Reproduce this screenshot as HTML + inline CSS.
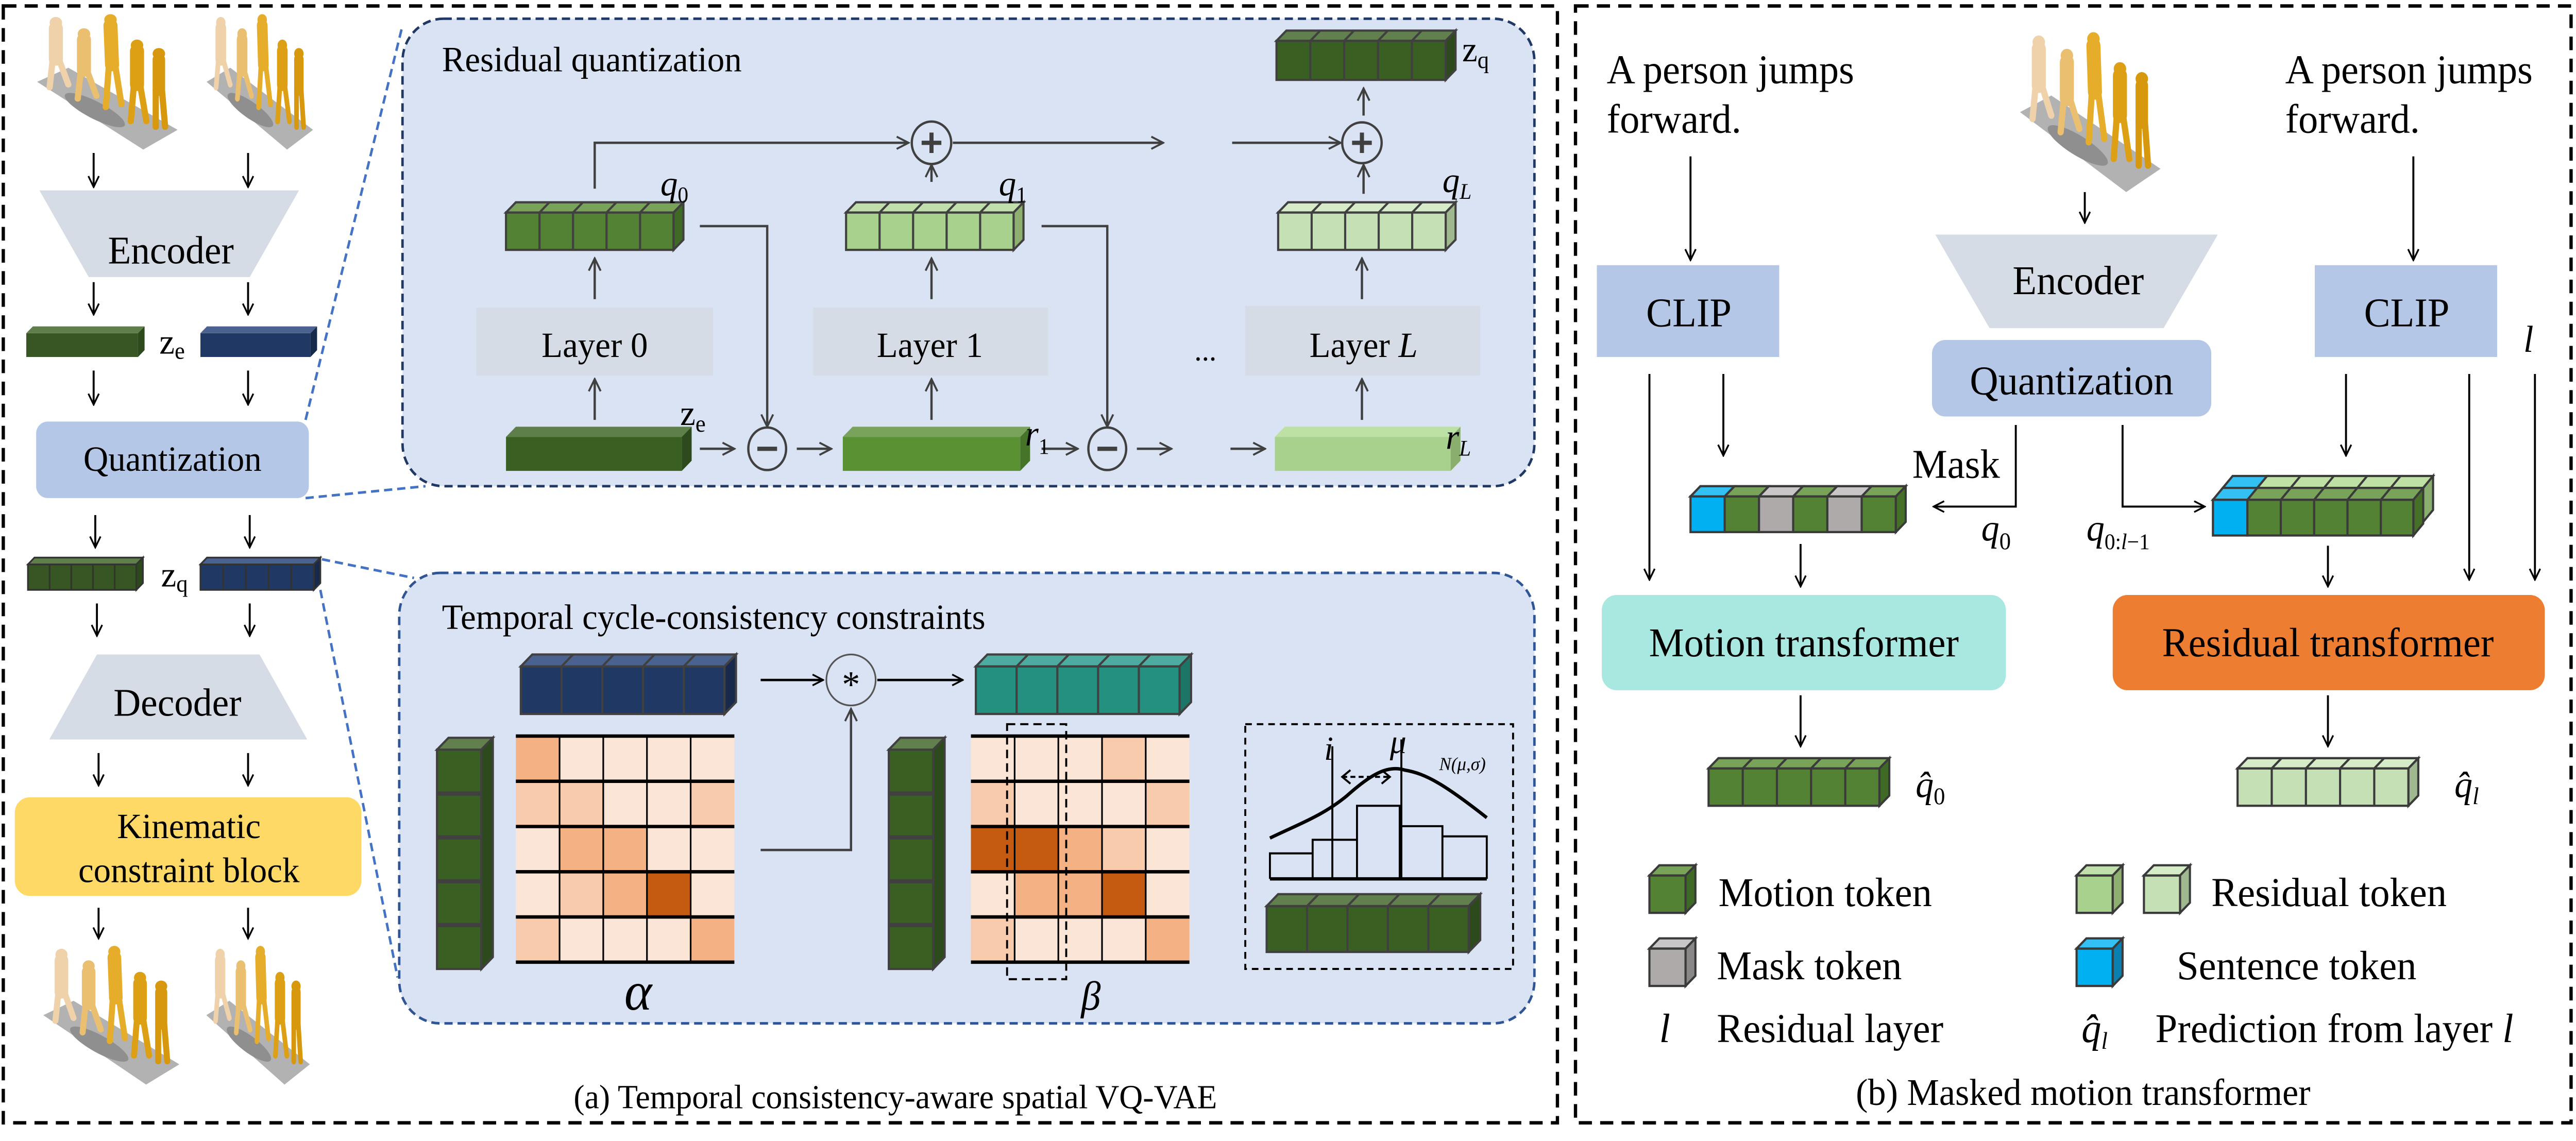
<!DOCTYPE html>
<html><head><meta charset="utf-8">
<style>
html,body{margin:0;padding:0;background:#fff;width:100%;height:100%;overflow:hidden;}
svg{display:block;position:fixed;left:0;top:0;width:100vw;height:100vh;}
text{font-family:"Liberation Serif","Times New Roman",serif;}
</style></head>
<body>
<svg viewBox="0 0 1568 671.2" preserveAspectRatio="none" xmlns="http://www.w3.org/2000/svg" font-family="Liberation Serif, serif">
<defs>
<marker id="ah" viewBox="0 0 10 10" refX="9" refY="5" markerWidth="8" markerHeight="8" markerUnits="userSpaceOnUse" orient="auto"><path d="M1,1 L9,5 L1,9" fill="none" stroke="#000" stroke-width="1.3"/></marker>
<marker id="ag" viewBox="0 0 10 10" refX="9" refY="5" markerWidth="9" markerHeight="9" markerUnits="userSpaceOnUse" orient="auto"><path d="M1,1 L9,5 L1,9" fill="none" stroke="#404040" stroke-width="1.3"/></marker>
<g id="figdef">
<polygon points="8,52 28,42 98,86 76,100" fill="#b2b2b2"/>
<ellipse cx="45" cy="72" rx="22" ry="6" fill="#8f8f8f" transform="rotate(30 45 72)"/>
<g stroke-linecap="round">
<circle cx="20" cy="10" r="4" fill="#f0d2aa"/><line x1="20" y1="14" x2="20" y2="36" stroke="#f0d2aa" stroke-width="9"/><line x1="18" y1="36" x2="16" y2="56" stroke="#f0d2aa" stroke-width="4"/><line x1="22" y1="36" x2="28" y2="54" stroke="#f0d2aa" stroke-width="4"/>
<circle cx="38" cy="18" r="4" fill="#eabf70"/><line x1="38" y1="22" x2="38" y2="44" stroke="#eabf70" stroke-width="9"/><line x1="36" y1="44" x2="34" y2="64" stroke="#eabf70" stroke-width="4"/><line x1="40" y1="44" x2="46" y2="62" stroke="#eabf70" stroke-width="4"/>
<circle cx="55" cy="8" r="4" fill="#e6ad2a"/><line x1="55" y1="12" x2="56" y2="40" stroke="#e6ad2a" stroke-width="9"/><line x1="54" y1="40" x2="52" y2="70" stroke="#e6ad2a" stroke-width="4"/><line x1="58" y1="40" x2="62" y2="68" stroke="#e6ad2a" stroke-width="4"/>
<circle cx="72" cy="26" r="4" fill="#dd9f14"/><line x1="72" y1="30" x2="72" y2="54" stroke="#dd9f14" stroke-width="9"/><line x1="70" y1="54" x2="68" y2="80" stroke="#dd9f14" stroke-width="4"/><line x1="74" y1="54" x2="78" y2="80" stroke="#dd9f14" stroke-width="4"/>
<circle cx="86" cy="32" r="4" fill="#d8980e"/><line x1="86" y1="36" x2="86" y2="58" stroke="#d8980e" stroke-width="8"/><line x1="84" y1="58" x2="84" y2="84" stroke="#d8980e" stroke-width="4"/><line x1="88" y1="58" x2="90" y2="84" stroke="#d8980e" stroke-width="4"/>
</g>
</g>
</defs>
<rect x="2" y="3.5" width="946" height="657" fill="none" stroke="#000" stroke-width="2" stroke-dasharray="8,5"/>
<rect x="959" y="3.5" width="606" height="657" fill="none" stroke="#000" stroke-width="2" stroke-dasharray="8,5"/>

<g stroke="#4472c4" stroke-width="1.5" stroke-dasharray="5,3" fill="none">
<line x1="186" y1="247" x2="245" y2="15"/>
<line x1="186" y1="293" x2="259" y2="286"/>
<line x1="196" y1="329" x2="252" y2="340"/>
<line x1="195" y1="347" x2="242" y2="575"/>
</g>

<rect x="245" y="11" width="689" height="275" rx="25" fill="#dae3f3" stroke="#203864" stroke-width="1.5" stroke-dasharray="5,3"/>
<rect x="243" y="337" width="691" height="265" rx="25" fill="#dae3f3" stroke="#2f5597" stroke-width="1.5" stroke-dasharray="5,3"/>

<use href="#figdef" transform="translate(15,5) scale(0.95,0.83)"/>
<use href="#figdef" transform="translate(120,5) scale(0.72,0.83)"/>
<g stroke="#000" stroke-width="1.2" marker-end="url(#ah)">
<line x1="57" y1="90" x2="57" y2="110"/><line x1="151" y1="90" x2="151" y2="110"/>
<line x1="57" y1="166" x2="57" y2="185"/><line x1="151" y1="166" x2="151" y2="185"/>
<line x1="57" y1="218" x2="57" y2="238"/><line x1="151" y1="218" x2="151" y2="238"/>
<line x1="58" y1="303" x2="58" y2="322"/><line x1="152" y1="303" x2="152" y2="322"/>
<line x1="59" y1="355" x2="59" y2="374"/><line x1="152" y1="355" x2="152" y2="374"/>
<line x1="60" y1="443" x2="60" y2="462"/><line x1="151" y1="443" x2="151" y2="462"/>
<line x1="60" y1="534" x2="60" y2="552"/><line x1="151" y1="534" x2="151" y2="552"/>
</g>
<polygon points="24,112 182,112 152,163 54,163" fill="#d6dce5"/>
<text x="104" y="155" font-size="23" text-anchor="middle">Encoder</text>
<rect x="16" y="196" width="68" height="14" fill="#375623"/><polygon points="16,196 20,192 88,192 84,196" fill="#5f7f4a"/><polygon points="84,196 88,192 88,206 84,210" fill="#2d4a1c"/>
<rect x="122" y="196" width="67" height="14" fill="#1f3864"/><polygon points="122,196 126,192 193,192 189,196" fill="#4a6290"/><polygon points="189,196 193,192 193,206 189,210" fill="#172a4c"/>
<text x="97" y="208" font-size="21">z<tspan font-size="14" dy="3">e</tspan></text>
<rect x="22" y="248" width="166" height="45" rx="7" fill="#b4c7e7"/>
<text x="105" y="277" font-size="21" text-anchor="middle">Quantization</text>
<g stroke="#333" stroke-width="1">
<rect x="17" y="332" width="66" height="15" fill="#375623"/><polygon points="17,332 21,328 87,328 83,332" fill="#5f7f4a"/><polygon points="83,332 87,328 87,343 83,347" fill="#2d4a1c"/>
<path d="M30.2,332V347M43.4,332V347M56.6,332V347M69.8,332V347"/>
<rect x="122" y="332" width="69" height="15" fill="#1f3864"/><polygon points="122,332 126,328 195,328 191,332" fill="#4a6290"/><polygon points="191,332 195,328 195,343 191,347" fill="#172a4c"/>
<path d="M135.8,332V347M149.6,332V347M163.4,332V347M177.2,332V347"/>
</g>
<text x="98" y="345" font-size="21">z<tspan font-size="14" dy="3">q</tspan></text>
<polygon points="59,385 158,385 187,435 30,435" fill="#d6dce5"/>
<text x="108" y="421" font-size="23" text-anchor="middle">Decoder</text>
<rect x="9" y="469" width="211" height="58" rx="9" fill="#ffd966"/>
<text x="115" y="493" font-size="21" text-anchor="middle">Kinematic</text>
<text x="115" y="519" font-size="21" text-anchor="middle">constraint block</text>
<use href="#figdef" transform="translate(19,553) scale(0.92,0.85)"/>
<use href="#figdef" transform="translate(120,553) scale(0.70,0.85)"/>

<text x="269" y="42" font-size="21">Residual quantization</text>
<rect x="290" y="181" width="144" height="40" fill="#d6dce5"/>
<text x="362" y="210" font-size="21" text-anchor="middle">Layer 0</text>
<rect x="495" y="181" width="143" height="40" fill="#d6dce5"/>
<text x="566" y="210" font-size="21" text-anchor="middle">Layer 1</text>
<rect x="758" y="180" width="143" height="41" fill="#d6dce5"/>
<text x="830" y="210" font-size="21" text-anchor="middle">Layer <tspan font-style="italic">L</tspan></text>
<text x="727" y="212" font-size="18">...</text>

<g stroke="#404040" stroke-width="1.4" fill="none">
<polyline points="362,111 362,84 553,84" marker-end="url(#ag)"/>
<line x1="580" y1="84" x2="708" y2="84" marker-end="url(#ag)"/>
<line x1="750" y1="84" x2="816" y2="84" marker-end="url(#ag)"/>
<line x1="362" y1="176" x2="362" y2="152" marker-end="url(#ag)"/>
<line x1="362" y1="247" x2="362" y2="223" marker-end="url(#ag)"/>
<line x1="567" y1="176" x2="567" y2="152" marker-end="url(#ag)"/>
<line x1="567" y1="247" x2="567" y2="223" marker-end="url(#ag)"/>
<line x1="567" y1="107" x2="567" y2="97" marker-end="url(#ag)"/>
<line x1="829" y1="176" x2="829" y2="152" marker-end="url(#ag)"/>
<line x1="829" y1="247" x2="829" y2="223" marker-end="url(#ag)"/>
<line x1="830" y1="114" x2="830" y2="97" marker-end="url(#ag)"/>
<line x1="830" y1="68" x2="830" y2="52" marker-end="url(#ag)"/>
<polyline points="426,133 467,133 467,251" marker-end="url(#ag)"/>
<polyline points="634,133 674,133 674,251" marker-end="url(#ag)"/>
<line x1="426" y1="264" x2="447" y2="264" marker-end="url(#ag)"/>
<line x1="485" y1="264" x2="506" y2="264" marker-end="url(#ag)"/>
<line x1="634" y1="264" x2="656" y2="264" marker-end="url(#ag)"/>
<line x1="692" y1="264" x2="713" y2="264" marker-end="url(#ag)"/>
<line x1="749" y1="264" x2="770" y2="264" marker-end="url(#ag)"/>
<ellipse cx="567" cy="84" rx="12" ry="12.5" fill="#dae3f3"/>
<ellipse cx="829" cy="84" rx="12" ry="12" fill="#dae3f3"/>
<ellipse cx="467" cy="264" rx="11.5" ry="12.5" fill="#dae3f3"/>
<ellipse cx="674" cy="264" rx="11.5" ry="12.5" fill="#dae3f3"/>
</g>
<g stroke="#404040" stroke-width="2.5">
<path d="M561,84H573M567,78V90M823,84H835M829,78V90M461,264H473M668,264H680"/>
</g>

<g stroke="#404040" stroke-width="1.3">
<rect x="308" y="125" width="102" height="22" fill="#548235"/><polygon points="308,125 314,119 416,119 410,125" fill="#7aa35a"/><polygon points="410,125 416,119 416,141 410,147" fill="#3f6a25"/>
<path d="M328.4,125V147M348.8,125V147M369.2,125V147M389.6,125V147M328.4,125L334.4,119M348.8,125L354.8,119M369.2,125L375.2,119M389.6,125L395.6,119"/>
<rect x="515" y="125" width="102" height="22" fill="#a9d18e"/><polygon points="515,125 521,119 623,119 617,125" fill="#c0dfaa"/><polygon points="617,125 623,119 623,141 617,147" fill="#8db070"/>
<path d="M535.4,125V147M555.8,125V147M576.2,125V147M596.6,125V147M535.4,125L541.4,119M555.8,125L561.8,119M576.2,125L582.2,119M596.6,125L602.6,119"/>
<rect x="778" y="125" width="102" height="22" fill="#c5e0b4"/><polygon points="778,125 784,119 886,119 880,125" fill="#d6ebc8"/><polygon points="880,125 886,119 886,141 880,147" fill="#a0b890"/>
<path d="M798.4,125V147M818.8,125V147M839.2,125V147M859.6,125V147M798.4,125L804.4,119M818.8,125L824.8,119M839.2,125L845.2,119M859.6,125L865.6,119"/>
<rect x="777" y="24" width="103" height="23" fill="#3a5f22"/><polygon points="777,24 783,18 886,18 880,24" fill="#62804e"/><polygon points="880,24 886,18 886,41 880,47" fill="#2d4a1c"/>
<path d="M797.6,24V47M818.2,24V47M838.8,24V47M859.4,24V47M797.6,24L803.6,18M818.2,24L824.2,18M838.8,24L844.8,18M859.4,24L865.4,18"/>
</g>
<rect x="308" y="257" width="107" height="20" fill="#3a5f22"/><polygon points="308,257 314,251 421,251 415,257" fill="#5f7f4a"/><polygon points="415,257 421,251 421,271 415,277" fill="#2d4a1c"/>
<rect x="513" y="257" width="108" height="20" fill="#5a9132"/><polygon points="513,257 519,251 627,251 621,257" fill="#79a35a"/><polygon points="621,257 627,251 627,271 621,277" fill="#46752a"/>
<rect x="776" y="257" width="107" height="20" fill="#a9d18e"/><polygon points="776,257 782,251 889,251 883,257" fill="#bde0a4"/><polygon points="883,257 889,251 889,271 883,277" fill="#8aae6e"/>
<g font-size="21" font-style="italic">
<text x="402" y="115">q<tspan font-size="13" font-style="normal" dy="4">0</tspan></text>
<text x="608" y="115">q<tspan font-size="13" font-style="normal" dy="4">1</tspan></text>
<text x="878" y="113">q<tspan font-size="13" dy="4">L</tspan></text>
<text x="624" y="262">r<tspan font-size="13" font-style="normal" dy="5">1</tspan></text>
<text x="880" y="264">r<tspan font-size="13" dy="4">L</tspan></text>
</g>
<text x="890" y="36" font-size="21">z<tspan font-size="14" dy="4">q</tspan></text>
<text x="414" y="250" font-size="21">z<tspan font-size="14" dy="4">e</tspan></text>

<text x="269" y="370" font-size="21">Temporal cycle-consistency constraints</text>
<g stroke="#404040" stroke-width="1.3">
<rect x="317" y="392" width="124" height="28" fill="#1f3864"/><polygon points="317,392 324,385 448,385 441,392" fill="#4a6290"/><polygon points="441,392 448,385 448,413 441,420" fill="#172a4c"/>
<path d="M341.8,392V420M366.6,392V420M391.4,392V420M416.2,392V420M341.8,392L348.8,385M366.6,392L373.6,385M391.4,392L398.4,385M416.2,392L423.2,385"/>
<rect x="594" y="392" width="124" height="28" fill="#24907f"/><polygon points="594,392 601,385 725,385 718,392" fill="#4eaba0"/><polygon points="718,392 725,385 725,413 718,420" fill="#1d7567"/>
<path d="M618.8,392V420M643.6,392V420M668.4,392V420M693.2,392V420M618.8,392L625.8,385M643.6,392L650.6,385M668.4,392L675.4,385M693.2,392L700.2,385"/>
<rect x="266" y="441" width="27" height="129" fill="#3a5f22"/><polygon points="266,441 273,434 300,434 293,441" fill="#62804e"/><polygon points="293,441 300,434 300,563 293,570" fill="#2d4a1c"/>
<rect x="541" y="441" width="27" height="129" fill="#3a5f22"/><polygon points="541,441 548,434 575,434 568,441" fill="#62804e"/><polygon points="568,441 575,434 575,563 568,570" fill="#2d4a1c"/>
<rect x="771" y="533" width="123" height="27" fill="#3a5f22"/><polygon points="771,533 778,526 901,526 894,533" fill="#62804e"/><polygon points="894,533 901,526 901,553 894,560" fill="#2d4a1c"/>
<path d="M795.6,533V560M820.2,533V560M844.8,533V560M869.4,533V560M795.6,533L802.6,526M820.2,533L827.2,526M844.8,533L851.8,526M869.4,533L876.4,526"/>
</g>
<g stroke="#404040" stroke-width="2.5">
<path d="M266,466.8H293M266,492.6H293M266,518.4H293M266,544.2H293M541,466.8H568M541,492.6H568M541,518.4H568M541,544.2H568"/>
</g>
<g stroke="#000" stroke-width="1.4" fill="none">
<line x1="463" y1="400" x2="501" y2="400" marker-end="url(#ah)"/>
<line x1="534" y1="400" x2="586" y2="400" marker-end="url(#ah)"/>
<polyline points="463,500 518,500 518,417" stroke="#404040" marker-end="url(#ag)"/>
<circle cx="518" cy="400" r="15" stroke="#555" stroke-width="1" fill="#dae3f3"/>
</g>
<text x="518" y="410" font-size="22" text-anchor="middle">*</text>
<g stroke="none">
<rect x="314" y="433" width="133" height="133" fill="#fbe5d6"/>
<rect x="314" y="433" width="26.6" height="26.6" fill="#f4b183"/>
<rect x="314" y="459.6" width="53.2" height="26.6" fill="#f8cbad"/><rect x="420.4" y="459.6" width="26.6" height="26.6" fill="#f8cbad"/>
<rect x="340.6" y="486.2" width="53.2" height="26.6" fill="#f4b183"/>
<rect x="340.6" y="512.8" width="26.6" height="26.6" fill="#f8cbad"/><rect x="367.2" y="512.8" width="26.6" height="26.6" fill="#f4b183"/><rect x="393.8" y="512.8" width="26.6" height="26.6" fill="#c55a11"/>
<rect x="314" y="539.4" width="26.6" height="26.6" fill="#f8cbad"/><rect x="420.4" y="539.4" width="26.6" height="26.6" fill="#f4b183"/>
<rect x="591" y="433" width="133" height="133" fill="#fbe5d6"/>
<rect x="670.8" y="433" width="26.6" height="26.6" fill="#f8cbad"/>
<rect x="591" y="459.6" width="26.6" height="26.6" fill="#f8cbad"/><rect x="697.4" y="459.6" width="26.6" height="26.6" fill="#f8cbad"/>
<rect x="591" y="486.2" width="53.2" height="26.6" fill="#c55a11"/><rect x="644.2" y="486.2" width="26.6" height="26.6" fill="#f4b183"/><rect x="670.8" y="486.2" width="26.6" height="26.6" fill="#f8cbad"/>
<rect x="617.6" y="512.8" width="53.2" height="26.6" fill="#f4b183"/><rect x="670.8" y="512.8" width="26.6" height="26.6" fill="#c55a11"/>
<rect x="591" y="539.4" width="26.6" height="26.6" fill="#f8cbad"/><rect x="697.4" y="539.4" width="26.6" height="26.6" fill="#f4b183"/>
</g>
<g stroke="#000" fill="none">
<path stroke-width="1" d="M340.6,433V566M367.2,433V566M393.8,433V566M420.4,433V566M617.6,433V566M644.2,433V566M670.8,433V566M697.4,433V566"/>
<path stroke-width="2" d="M314,433H447M314,459.6H447M314,486.2H447M314,512.8H447M314,539.4H447M314,566H447M591,433H724M591,459.6H724M591,486.2H724M591,512.8H724M591,539.4H724M591,566H724"/>
<rect x="613" y="426" width="36" height="150" stroke-width="1.2" stroke-dasharray="5,3"/>
</g>
<text x="380" y="594" font-size="32" font-style="italic">α</text>
<text x="658" y="594" font-size="24" font-style="italic">β</text>
<rect x="758" y="426" width="163" height="144" fill="none" stroke="#000" stroke-width="1.2" stroke-dasharray="4,3"/>
<g stroke="#000" stroke-width="1.2" fill="none">
<path d="M773,517V502H799V517M799,517V494H826V517M826,517V474H852V517M852,517V486H878V517M878,517V492H905V517"/>
<line x1="773" y1="517" x2="905" y2="517" stroke-width="2"/>
<line x1="811" y1="439" x2="811" y2="517"/><line x1="853" y1="435" x2="853" y2="517"/>
<path d="M773,493 C790,485 805,480 820,468 C835,455 845,450 855,453 C868,455 880,462 905,481" stroke-width="2"/>
<line x1="817" y1="457" x2="846" y2="457" stroke-dasharray="3,2"/>
<path d="M822,453L817,457L822,461M841,453L846,457L841,461"/>
</g>
<text x="806" y="447" font-size="20" font-style="italic">i</text>
<text x="846" y="443" font-size="20" font-style="italic">μ</text>
<text x="876" y="453" font-size="11" font-style="italic">N(μ,σ)</text>
<text x="545" y="652" font-size="20" text-anchor="middle">(a) Temporal consistency-aware spatial VQ-VAE</text>

<g font-size="24">
<text x="978" y="49">A person jumps</text><text x="978" y="78">forward.</text>
<text x="1391" y="49">A person jumps</text><text x="1391" y="78">forward.</text>
</g>
<use href="#figdef" transform="translate(1222,15) scale(0.95,0.98)"/>
<rect x="972" y="156" width="111" height="54" fill="#b4c7e7"/>
<text x="1028" y="192" font-size="24" text-anchor="middle">CLIP</text>
<rect x="1409" y="156" width="111" height="54" fill="#b4c7e7"/>
<text x="1465" y="192" font-size="24" text-anchor="middle">CLIP</text>
<polygon points="1178,138 1350,138 1317,193 1211,193" fill="#d6dce5"/>
<text x="1265" y="173" font-size="24" text-anchor="middle">Encoder</text>
<rect x="1176" y="200" width="170" height="45" rx="8" fill="#b4c7e7"/>
<text x="1261" y="232" font-size="24" text-anchor="middle">Quantization</text>
<text x="1536" y="207" font-size="22" font-style="italic">l</text>
<g stroke="#000" stroke-width="1.2" fill="none" marker-end="url(#ah)">
<line x1="1029" y1="92" x2="1029" y2="153"/>
<line x1="1469" y1="92" x2="1469" y2="153"/>
<line x1="1269" y1="113" x2="1269" y2="131"/>
<line x1="1004" y1="220" x2="1004" y2="341"/>
<line x1="1049" y1="220" x2="1049" y2="268"/>
<line x1="1428" y1="220" x2="1428" y2="268"/>
<line x1="1503" y1="220" x2="1503" y2="341"/>
<line x1="1543" y1="220" x2="1543" y2="341"/>
<line x1="1096" y1="320" x2="1096" y2="345"/>
<line x1="1417" y1="321" x2="1417" y2="345"/>
<line x1="1096" y1="409" x2="1096" y2="439"/>
<line x1="1417" y1="409" x2="1417" y2="439"/>
<polyline points="1227,250 1227,298 1177,298"/>
<polyline points="1292,250 1292,298 1342,298"/>
</g>
<text x="1164" y="281" font-size="24">Mask</text>
<text x="1206" y="318" font-size="22" font-style="italic">q<tspan font-size="14" font-style="normal" dy="5">0</tspan></text>
<text x="1270" y="318" font-size="22" font-style="italic">q<tspan font-size="13" font-style="normal" dy="5">0:<tspan font-style="italic">l</tspan>−1</tspan></text>
<g stroke="#3a3a3a" stroke-width="1.3">
<rect x="1029" y="292" width="20.8" height="21" fill="#00b0f0"/>
<rect x="1049.8" y="292" width="20.9" height="21" fill="#548235"/>
<rect x="1070.7" y="292" width="20.8" height="21" fill="#aeaaaa"/>
<rect x="1091.5" y="292" width="20.8" height="21" fill="#548235"/>
<rect x="1112.3" y="292" width="20.9" height="21" fill="#aeaaaa"/>
<rect x="1133.2" y="292" width="20.8" height="21" fill="#548235"/>
<polygon points="1029,292 1035,286 1055.8,286 1049.8,292" fill="#33c0f2"/>
<polygon points="1049.8,292 1055.8,286 1076.7,286 1070.7,292" fill="#7aa35a"/>
<polygon points="1070.7,292 1076.7,286 1097.5,286 1091.5,292" fill="#c8c6c6"/>
<polygon points="1091.5,292 1097.5,286 1118.3,286 1112.3,292" fill="#7aa35a"/>
<polygon points="1112.3,292 1118.3,286 1139.2,286 1133.2,292" fill="#c8c6c6"/>
<polygon points="1133.2,292 1139.2,286 1160,286 1154,292" fill="#7aa35a"/>
<polygon points="1154,292 1160,286 1160,307 1154,313" fill="#466f28"/>
</g>
<g stroke="#3a3a3a" stroke-width="1.3">
<polygon points="1353,287 1359,280 1380,280 1374,287" fill="#33c0f2"/>
<polygon points="1374,287 1380,280 1481,280 1475,287" fill="#bfe1a6"/>
<path d="M1394.3,287L1400.3,280M1414.6,287L1420.6,280M1434.9,287L1440.9,280M1455.2,287L1461.2,280"/>
<polygon points="1475,287 1481,280 1481,300 1475,307" fill="#8aae6e"/>
<polygon points="1347,294 1353,287 1374,287 1368,294" fill="#33c0f2"/>
<polygon points="1368,294 1374,287 1475,287 1469,294" fill="#7aa35a"/>
<path d="M1388.3,294L1394.3,287M1408.6,294L1414.6,287M1428.9,294L1434.9,287M1449.2,294L1455.2,287"/>
<polygon points="1469,294 1475,287 1475,308 1469,315" fill="#466f28"/>
<rect x="1347" y="294" width="21" height="21" fill="#00b0f0"/>
<rect x="1368" y="294" width="101" height="21" fill="#548235"/>
<path d="M1388.3,294V315M1408.6,294V315M1428.9,294V315M1449.2,294V315"/>
</g>
<rect x="975" y="350" width="246" height="56" rx="9" fill="#a8e8e1"/>
<text x="1098" y="386" font-size="24" text-anchor="middle">Motion transformer</text>
<rect x="1286" y="350" width="263" height="56" rx="9" fill="#ed7d31"/>
<text x="1417" y="386" font-size="24" text-anchor="middle">Residual transformer</text>
<g stroke="#3a3a3a" stroke-width="1.3">
<rect x="1040" y="452" width="104" height="22" fill="#548235"/><polygon points="1040,452 1046,446 1150,446 1144,452" fill="#7aa35a"/><polygon points="1144,452 1150,446 1150,468 1144,474" fill="#3f6a25"/>
<path d="M1060.8,452V474M1081.6,452V474M1102.4,452V474M1123.2,452V474M1060.8,452L1066.8,446M1081.6,452L1087.6,446M1102.4,452L1108.4,446M1123.2,452L1129.2,446"/>
<rect x="1362" y="452" width="104" height="22" fill="#c5e0b4"/><polygon points="1362,452 1368,446 1472,446 1466,452" fill="#d6ebc8"/><polygon points="1466,452 1472,446 1472,468 1466,474" fill="#a0b890"/>
<path d="M1382.8,452V474M1403.6,452V474M1424.4,452V474M1445.2,452V474M1382.8,452L1388.8,446M1403.6,452L1409.6,446M1424.4,452L1430.4,446M1445.2,452L1451.2,446"/>
</g>
<text x="1166" y="469" font-size="22" font-style="italic">q̂<tspan font-size="14" font-style="normal" dy="4">0</tspan></text>
<text x="1494" y="469" font-size="22" font-style="italic">q̂<tspan font-size="14" dy="4">l</tspan></text>
<g stroke="#3a3a3a" stroke-width="1.3">
<rect x="1004" y="515" width="22" height="22" fill="#548235"/><polygon points="1004,515 1010,509 1032,509 1026,515" fill="#7aa35a"/><polygon points="1026,515 1032,509 1032,531 1026,537" fill="#3f6a25"/>
<rect x="1004" y="558" width="22" height="22" fill="#aeaaaa"/><polygon points="1004,558 1010,552 1032,552 1026,558" fill="#c8c6c6"/><polygon points="1026,558 1032,552 1032,574 1026,580" fill="#8a8787"/>
<rect x="1264" y="515" width="22" height="22" fill="#a9d18e"/><polygon points="1264,515 1270,509 1292,509 1286,515" fill="#c0dfaa"/><polygon points="1286,515 1292,509 1292,531 1286,537" fill="#8db070"/>
<rect x="1305" y="515" width="22" height="22" fill="#c5e0b4"/><polygon points="1305,515 1311,509 1333,509 1327,515" fill="#d6ebc8"/><polygon points="1327,515 1333,509 1333,531 1327,537" fill="#a0b890"/>
<rect x="1264" y="558" width="22" height="22" fill="#00b0f0"/><polygon points="1264,558 1270,552 1292,552 1286,558" fill="#33c0f2"/><polygon points="1286,558 1292,552 1292,574 1286,580" fill="#0a80b0"/>
</g>
<g font-size="24">
<text x="1046" y="533">Motion token</text>
<text x="1045" y="576">Mask token</text>
<text x="1010" y="613" font-style="italic">l</text>
<text x="1045" y="613">Residual layer</text>
<text x="1346" y="533">Residual token</text>
<text x="1325" y="576">Sentence token</text>
<text x="1267" y="613" font-style="italic">q̂<tspan font-size="14" dy="4">l</tspan></text>
<text x="1312" y="613">Prediction from layer <tspan font-style="italic">l</tspan></text>
</g>
<text x="1268" y="650" font-size="22" text-anchor="middle">(b) Masked motion transformer</text>
</svg>
</body></html>
